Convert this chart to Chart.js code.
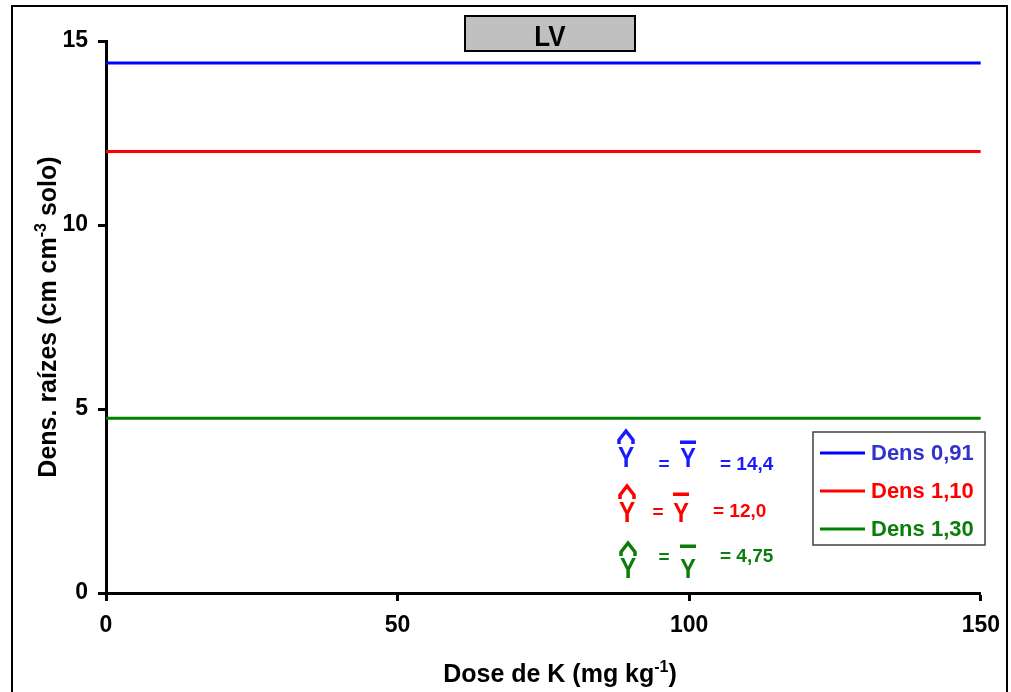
<!DOCTYPE html>
<html>
<head>
<meta charset="utf-8">
<script src="https://cdn.jsdelivr.net/npm/chart.js@4.4.1/dist/chart.umd.min.js"></script>
<style>
  html, body { margin: 0; padding: 0; background: #ffffff; }
  #c { display: block; }
</style>
</head>
<body>
<canvas id="c" width="1011" height="692"></canvas>
<script>
// ---- Data ----
const doses = [0, 150];
const dens091 = [14.4, 14.4];
const dens110 = [12.0, 12.0];
const dens130 = [4.75, 4.75];
const seriesLabels = ['Dens 0,91', 'Dens 1,10', 'Dens 1,30'];
const equationValues = ['14,4', '12,0', '4,75'];
const chartTitle = 'LV';
const xTitleParts = [['Dose de K (mg kg', false], ['-1', true], [')', false]];
const yTitleParts = [['Dens. raízes (cm cm', false], ['-3', true], [' solo)', false]];

const FONT = '"Liberation Sans", Arial, Helvetica, sans-serif';
const lineColors = ['#0000ff', '#ff0000', '#008000'];
const legendTextColors = ['#3333cc', '#ff0000', '#0a7d0a'];
const eqColors = ['#1a1aff', '#ff0000', '#0a7d0a'];

function toPoints(xs, ys) { return xs.map((x, i) => ({ x: x, y: ys[i] })); }

function drawParts(ctx, parts, size, cx, baseline) {
  const supSize = Math.round(size * 0.62);
  let total = 0;
  parts.forEach(([t, sup]) => {
    ctx.font = 'bold ' + (sup ? supSize : size) + 'px ' + FONT;
    total += ctx.measureText(t).width;
  });
  let x = cx - total / 2;
  ctx.textAlign = 'left';
  ctx.textBaseline = 'alphabetic';
  parts.forEach(([t, sup]) => {
    ctx.font = 'bold ' + (sup ? supSize : size) + 'px ' + FONT;
    ctx.fillText(t, x, sup ? baseline - size * 0.42 : baseline);
    x += ctx.measureText(t).width;
  });
}

function drawHatY(ctx, cx, hatTop, baseline, color) {
  ctx.fillStyle = color;
  ctx.strokeStyle = color;
  ctx.save();
  ctx.translate(cx, baseline);
  ctx.scale(0.9, 1.12);
  ctx.font = 'bold 27px ' + FONT;
  ctx.textAlign = 'center';
  ctx.textBaseline = 'alphabetic';
  ctx.fillText('Y', 0, 0);
  ctx.restore();
  ctx.lineWidth = 3.5;
  ctx.lineJoin = 'miter';
  ctx.beginPath();
  ctx.moveTo(cx - 7, hatTop + 15);
  ctx.lineTo(cx - 7, hatTop + 11);
  ctx.lineTo(cx, hatTop + 2);
  ctx.lineTo(cx + 7, hatTop + 11);
  ctx.lineTo(cx + 7, hatTop + 15);
  ctx.stroke();
}

function drawBarY(ctx, cx, barY, baseline, color) {
  ctx.fillStyle = color;
  ctx.save();
  ctx.translate(cx, baseline);
  ctx.scale(0.9, 1.08);
  ctx.font = 'bold 26px ' + FONT;
  ctx.textAlign = 'center';
  ctx.textBaseline = 'alphabetic';
  ctx.fillText('Y', 0, 0);
  ctx.restore();
  ctx.fillRect(cx - 8, barY - 1.5, 16, 3.5);
}

const decorPlugin = {
  id: 'decor',
  afterDraw(chart) {
    const ctx = chart.ctx;
    ctx.save();
    // outer frame (left, top, right)
    ctx.strokeStyle = '#000';
    ctx.lineWidth = 2;
    ctx.beginPath();
    ctx.moveTo(12, 692);
    ctx.lineTo(12, 6);
    ctx.lineTo(1007, 6);
    ctx.lineTo(1007, 692);
    ctx.stroke();

    // title box
    ctx.fillStyle = '#c0c0c0';
    ctx.fillRect(465, 16, 170, 35);
    ctx.strokeStyle = '#000';
    ctx.lineWidth = 2;
    ctx.strokeRect(465, 16, 170, 35);
    ctx.fillStyle = '#000';
    ctx.save();
    ctx.translate(550, 45.5);
    ctx.scale(1, 1.1);
    ctx.font = 'bold 26px ' + FONT;
    ctx.textAlign = 'center';
    ctx.textBaseline = 'alphabetic';
    ctx.fillText(chartTitle, 0, 0);
    ctx.restore();

    // axis titles
    ctx.fillStyle = '#000';
    drawParts(ctx, xTitleParts, 25, 560, 682);
    ctx.save();
    ctx.translate(56, 317);
    ctx.rotate(-Math.PI / 2);
    drawParts(ctx, yTitleParts, 25, 0, 0);
    ctx.restore();

    // equations
    const rows = [
      { hx: 626, hatTop: 429, base: 467, eqx: 664, eqy: 465, bx: 688, barY: 442, vx: 720, vy: 465 },
      { hx: 627, hatTop: 484, base: 522, eqx: 658, eqy: 513, bx: 681, barY: 494, vx: 713, vy: 512 },
      { hx: 628, hatTop: 541, base: 578, eqx: 664, eqy: 558, bx: 688, barY: 546, vx: 720, vy: 557 }
    ];
    rows.forEach((r, i) => {
      const col = eqColors[i];
      drawHatY(ctx, r.hx, r.hatTop, r.base, col);
      ctx.fillStyle = col;
      ctx.font = 'bold 19px ' + FONT;
      ctx.textAlign = 'center';
      ctx.textBaseline = 'middle';
      ctx.fillText('=', r.eqx, r.eqy);
      drawBarY(ctx, r.bx, r.barY, r.base, col);
      ctx.fillStyle = col;
      ctx.font = 'bold 19px ' + FONT;
      ctx.textAlign = 'left';
      ctx.textBaseline = 'middle';
      ctx.fillText('= ' + equationValues[i], r.vx, r.vy);
    });

    // legend
    ctx.fillStyle = '#fff';
    ctx.fillRect(813, 432, 172, 113);
    ctx.strokeStyle = '#404040';
    ctx.lineWidth = 1.5;
    ctx.strokeRect(813, 432, 172, 113);
    const rowsY = [453, 491, 529];
    chart.data.datasets.forEach((ds, i) => {
      ctx.strokeStyle = ds.borderColor;
      ctx.lineWidth = 3;
      ctx.beginPath();
      ctx.moveTo(820, rowsY[i]);
      ctx.lineTo(865, rowsY[i]);
      ctx.stroke();
      ctx.fillStyle = legendTextColors[i];
      ctx.font = 'bold 22px ' + FONT;
      ctx.textAlign = 'left';
      ctx.textBaseline = 'middle';
      ctx.fillText(ds.label, 871, rowsY[i] + 1);
    });
    ctx.restore();
  }
};

const seriesData = [dens091, dens110, dens130];

new Chart(document.getElementById('c'), {
  type: 'line',
  data: {
    datasets: seriesData.map((vals, i) => ({
      label: seriesLabels[i],
      data: toPoints(doses, vals),
      borderColor: lineColors[i],
      backgroundColor: lineColors[i],
      borderWidth: 3,
      pointRadius: 0,
      fill: false,
      tension: 0
    }))
  },
  options: {
    responsive: false,
    animation: false,
    devicePixelRatio: 1,
    layout: { padding: { top: 41, right: 30, left: 0, bottom: 0 } },
    plugins: {
      legend: { display: false },
      title: { display: false },
      tooltip: { enabled: false }
    },
    scales: {
      x: {
        type: 'linear',
        min: 0,
        max: 150,
        afterFit(s) { s.height = 99; },
        ticks: {
          stepSize: 50,
          color: '#000',
          padding: 11,
          font: { family: FONT, size: 23, weight: 'bold' }
        },
        grid: {
          display: true,
          drawOnChartArea: false,
          drawTicks: true,
          tickLength: 8,
          tickWidth: 3,
          tickColor: '#000'
        },
        border: { display: true, color: '#000', width: 3 },
        title: { display: false }
      },
      y: {
        type: 'linear',
        min: 0,
        max: 15,
        afterFit(s) { s.width = 106; },
        ticks: {
          stepSize: 5,
          color: '#000',
          padding: 10,
          font: { family: FONT, size: 23, weight: 'bold' }
        },
        grid: {
          display: true,
          drawOnChartArea: false,
          drawTicks: true,
          tickLength: 8,
          tickWidth: 3,
          tickColor: '#000'
        },
        border: { display: true, color: '#000', width: 3 },
        title: { display: false }
      }
    }
  },
  plugins: [decorPlugin]
});
</script>
</body>
</html>
